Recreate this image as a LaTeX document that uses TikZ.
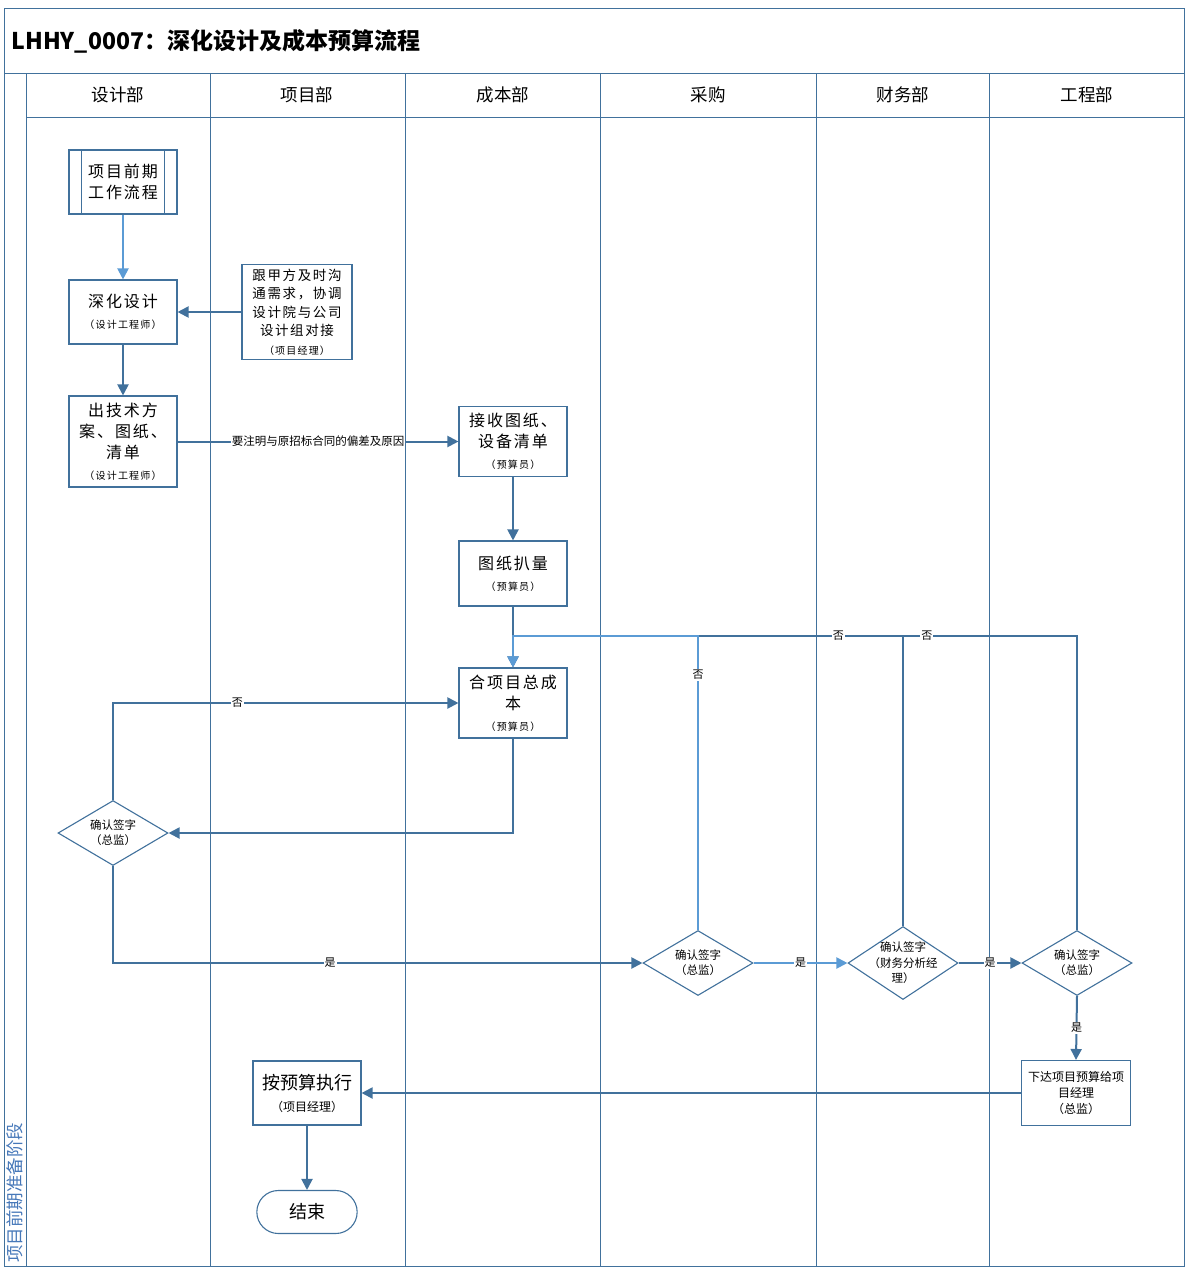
\documentclass[tikz,border=0pt]{standalone}
\usepackage{fontspec}
\setmainfont{Noto Sans CJK SC}
\newfontfamily\spc[LetterSpace=12]{Noto Sans CJK SC}
\usetikzlibrary{shapes.geometric,shapes.misc,arrows.meta}
\definecolor{dk}{RGB}{65,113,156}
\definecolor{lt}{RGB}{91,155,213}
\definecolor{ph}{RGB}{70,120,185}
\newcommand\sbt[1]{{\fontsize{10}{13}\selectfont #1}}
\begin{document}
\begin{tikzpicture}[x=1pt,y=-1pt,
  lane/.style={draw=dk,line width=1pt},
  box/.style={draw=dk,line width=1.1pt,fill=white,align=center,inner sep=1pt,
    minimum width=108pt,font=\spc\fontsize{16}{21}\selectfont},
  sbox/.style={draw=dk,line width=1.1pt,fill=white,align=center,inner sep=1pt,
    minimum width=108pt},
  dec/.style={draw=dk,line width=1.1pt,fill=white,diamond,inner sep=0pt,
    minimum width=110pt,minimum height=65pt},
  dtext/.style={align=center,font=\fontsize{11.5}{15}\selectfont,inner sep=0pt},
  con/.style={draw=dk,line width=2pt,-{Triangle[length=11pt,width=11pt]}},
  conl/.style={con,draw=lt},
  plain/.style={draw=dk,line width=2pt},
  lbl/.style={fill=white,inner sep=1pt,font=\fontsize{11}{13}\selectfont},
  head/.style={font=\fontsize{17.5}{20}\selectfont},
]
\useasboundingbox (0,0) rectangle (1198,1274);
% frame and lanes
\draw[lane] (4,8) rectangle (1184,1266);
\draw[lane] (4,73) -- (1184,73);
\draw[lane] (26,117) -- (1184,117);
\foreach \xx in {26,210,405,600,816,989} \draw[lane] (\xx,73) -- (\xx,1266);
\node[anchor=west,font=\bfseries\fontsize{23}{26}\selectfont] (title) at (8,41) {LHHY\_0007：深化设计及成本预算流程};
\node[head] (h1) at (118,95) {设计部};
\node[head] (h2) at (307,95) {项目部};
\node[head] (h3) at (503,95) {成本部};
\node[head] (h4) at (708,95) {采购};
\node[head] (h5) at (903,95) {财务部};
\node[head] (h6) at (1087,95) {工程部};
\node[rotate=90,anchor=west,text=ph,font=\fontsize{17.5}{20}\selectfont,inner sep=0pt] (phase) at (15,1263) {项目前期准备阶段};

% boxes
\node[box,minimum height=64pt] (p0) at (123,182) {项目前期\\工作流程};
\draw[dk,line width=1.1pt] ([xshift=13pt]p0.north west) -- ([xshift=13pt]p0.south west);
\draw[dk,line width=1.1pt] ([xshift=-13pt]p0.north east) -- ([xshift=-13pt]p0.south east);
\node[box,minimum height=64pt] (p1) at (123,312) {深化设计\\\sbt{（设计工程师）}};
\node[box,minimum width=110pt,minimum height=95pt,font=\spc\fontsize{13.5}{18.5}\selectfont] (p2) at (297,312) {跟甲方及时沟\\通需求，协调\\设计院与公司\\设计组对接\\\sbt{（项目经理）}};
\node[box,minimum height=91pt] (p3) at (123,441.5) {出技术方\\案、图纸、\\清单\\\sbt{（设计工程师）}};
\node[box,minimum height=70pt] (p4) at (513,441.5) {接收图纸、\\设备清单\\\sbt{（预算员）}};
\node[box,minimum height=65pt] (p5) at (513,573.5) {图纸扒量\\\sbt{（预算员）}};
\node[box,minimum height=70pt] (p6) at (513,703) {合项目总成\\本\\\sbt{（预算员）}};

\node[dec] (d1) at (113,833) {};
\node[dtext] (d1t) at (d1) {确认签字\\（总监）};
\node[dec] (d2) at (698,963) {};
\node[dtext] (d2t) at (d2) {确认签字\\（总监）};
\node[dec,minimum height=73pt] (d3) at (903,963) {};
\node[dtext,font=\fontsize{11.5}{15.5}\selectfont] (d3t) at (d3) {确认签字\\（财务分析经\\理）};
\node[dec] (d4) at (1077,963) {};
\node[dtext] (d4t) at (d4) {确认签字\\（总监）};

\node[sbox,minimum width=109pt,minimum height=65pt,font=\fontsize{12}{16}\selectfont] (p7) at (1076,1093) {下达项目预算给项\\目经理\\（总监）};
\node[sbox,minimum height=64pt,font=\fontsize{18}{22}\selectfont] (p8) at (307,1093) {按预算执行\\{\fontsize{12}{15}\selectfont（项目经理）}};
\node[draw=dk,line width=1.1pt,rounded rectangle,minimum width=107pt,minimum height=43pt,font=\fontsize{18}{22}\selectfont] (end) at (307,1212) {结束};

\coordinate (j) at (513,636);

% connectors
\draw[conl] (p0) -- (p1);
\draw[con] (p2) -- (p1);
\draw[con] (p1) -- (p3);
\draw[con] (p3) -- node[lbl,font=\fontsize{11.5}{13}\selectfont,inner sep=0.5pt] {要注明与原招标合同的偏差及原因} (p4);
\draw[con] (p4) -- (p5);
\draw[con] (p5) -- (p6);
\draw[con] (p6.south) |- (d1.east);
\draw[con] (d1.north) |- node[lbl,pos=0.68] {否} (p6.west);
\draw[con] (d1.south) |- node[lbl,pos=0.705] {是} (d2.west);
\draw[conl] (d2.east) -- node[lbl] {是} (d3.west);
\draw[con] (d3.east) -- node[lbl] {是} (d4.west);
\draw[con] (d4.south) -- node[lbl] {是} (p7.north);
\draw[con] (p7.west) -- (p8.east);
\draw[con] (p8.south) -- (end.north);
% loops back
\draw[plain] (d4.north) |- node[lbl,pos=0.633] {否} (j);
\draw[plain] (d3.north) |- node[lbl,pos=0.583] {否} (j);
\draw[conl] (d2.north) |- node[lbl,pos=0.434] {否} (j) -- (p6.north);
\end{tikzpicture}
\end{document}
